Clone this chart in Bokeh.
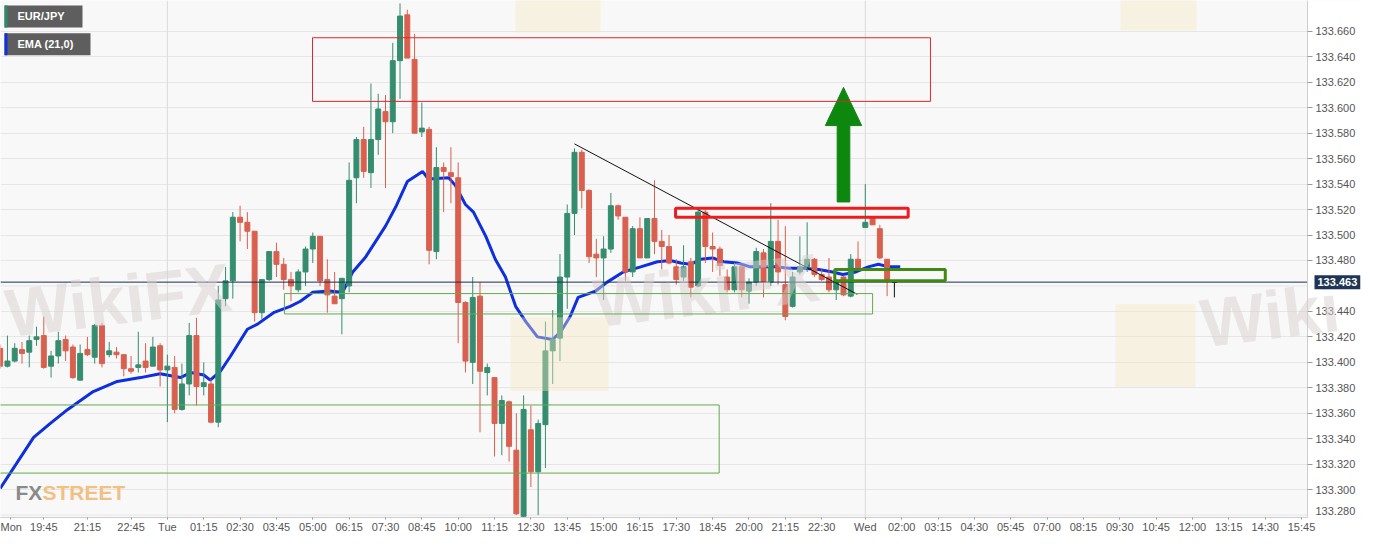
from bokeh.plotting import figure
from bokeh.models import FixedTicker, Range1d, BoxAnnotation, Label, Span, PrintfTickFormatter, ColumnDataSource
from bokeh.embed import file_html
from bokeh.resources import INLINE

# ---------------- data (15-minute candles, index 0 = Mon 19:45) ----------------
first_index = -6
opens = [133.411, 133.397, 133.401, 133.410, 133.408, 133.418, 133.421, 133.397, 133.405, 133.418,
         133.412, 133.386, 133.410, 133.404, 133.429, 133.406, 133.408, 133.406, 133.395, 133.396,
         133.401, 133.397, 133.413, 133.394, 133.396, 133.363, 133.383, 133.421, 133.381, 133.383,
         133.353, 133.450, 133.464, 133.514, 133.510, 133.503, 133.439, 133.465, 133.487, 133.477,
         133.465, 133.457, 133.471, 133.489, 133.499, 133.465, 133.452, 133.450, 133.460, 133.545,
         133.575, 133.549, 133.575, 133.597, 133.589, 133.637, 133.673, 133.638, 133.581, 133.583,
         133.487, 133.553, 133.549, 133.545, 133.447, 133.400, 133.452, 133.392, 133.388, 133.352,
         133.369, 133.331, 133.279, 133.347, 133.314, 133.351, 133.409, 133.419, 133.467, 133.517,
         133.565, 133.535, 133.485, 133.482, 133.489, 133.523, 133.514, 133.471, 133.505, 133.482,
         133.513, 133.495, 133.491, 133.475, 133.467, 133.479, 133.460, 133.518, 133.491, 133.489,
         133.467, 133.457, 133.475, 133.456, 133.463, 133.486, 133.463, 133.495, 133.461, 133.444,
         133.471, 133.475, 133.481, 133.469, 133.467, 133.457, 133.467, 133.452, 133.481, 133.506,
         133.514, 133.505, 133.481, 133.463]
highs = [133.414, 133.421, 133.415, 133.416, 133.421, 133.428, 133.436, 133.409, 133.424, 133.421,
         133.414, 133.414, 133.420, 133.430, 133.431, 133.416, 133.412, 133.406, 133.405, 133.424,
         133.415, 133.420, 133.415, 133.406, 133.405, 133.399, 133.431, 133.435, 133.400, 133.387,
         133.460, 133.475, 133.518, 133.523, 133.518, 133.503, 133.465, 133.487, 133.494, 133.482,
         133.471, 133.473, 133.491, 133.502, 133.499, 133.481, 133.471, 133.466, 133.557, 133.577,
         133.585, 133.619, 133.611, 133.610, 133.651, 133.682, 133.677, 133.658, 133.604, 133.585,
         133.569, 133.557, 133.569, 133.557, 133.448, 133.467, 133.463, 133.399, 133.388, 133.374,
         133.370, 133.360, 133.374, 133.366, 133.355, 133.432, 133.441, 133.485, 133.524, 133.568,
         133.567, 133.536, 133.497, 133.499, 133.533, 133.524, 133.514, 133.507, 133.514, 133.513,
         133.543, 133.504, 133.500, 133.481, 133.492, 133.482, 133.520, 133.520, 133.502, 133.491,
         133.473, 133.478, 133.475, 133.466, 133.490, 133.489, 133.525, 133.512, 133.507, 133.471,
         133.499, 133.510, 133.482, 133.473, 133.482, 133.465, 133.468, 133.485, 133.495, 133.540,
         133.514, 133.508, 133.481, 133.463]
lows = [133.395, 133.396, 133.400, 133.399, 133.396, 133.413, 133.395, 133.388, 133.399, 133.401,
        133.387, 133.386, 133.405, 133.399, 133.396, 133.404, 133.403, 133.389, 133.391, 133.392,
        133.392, 133.397, 133.381, 133.353, 133.360, 133.362, 133.374, 133.366, 133.374, 133.352,
        133.349, 133.444, 133.450, 133.495, 133.489, 133.432, 133.434, 133.464, 133.467, 133.457,
        133.448, 133.455, 133.460, 133.478, 133.460, 133.439, 133.446, 133.422, 133.455, 133.525,
        133.545, 133.537, 133.563, 133.537, 133.580, 133.607, 133.639, 133.580, 133.577, 133.477,
        133.481, 133.518, 133.525, 133.415, 133.392, 133.383, 133.345, 133.374, 133.326, 133.327,
        133.322, 133.280, 133.277, 133.302, 133.280, 133.317, 133.383, 133.401, 133.442, 133.500,
        133.521, 133.478, 133.467, 133.449, 133.486, 133.512, 133.464, 133.467, 133.482, 133.482,
        133.485, 133.473, 133.477, 133.461, 133.464, 133.451, 133.459, 133.478, 133.471, 133.468,
        133.455, 133.455, 133.451, 133.446, 133.460, 133.451, 133.460, 133.461, 133.433, 133.443,
        133.469, 133.471, 133.467, 133.464, 133.455, 133.449, 133.452, 133.451, 133.473, 133.506,
        133.508, 133.481, 133.452, 133.451]
closes = [133.397, 133.401, 133.411, 133.407, 133.417, 133.420, 133.396, 133.405, 133.417, 133.409,
          133.388, 133.407, 133.406, 133.429, 133.399, 133.409, 133.406, 133.395, 133.393, 133.398,
          133.396, 133.412, 133.394, 133.397, 133.363, 133.383, 133.421, 133.381, 133.384, 133.353,
          133.449, 133.464, 133.514, 133.510, 133.503, 133.439, 133.465, 133.487, 133.477, 133.465,
          133.460, 133.471, 133.489, 133.499, 133.464, 133.453, 133.446, 133.466, 133.543, 133.575,
          133.550, 133.575, 133.599, 133.589, 133.637, 133.672, 133.639, 133.580, 133.584, 133.488,
          133.553, 133.550, 133.546, 133.447, 133.401, 133.451, 133.393, 133.396, 133.352, 133.370,
          133.334, 133.281, 133.363, 133.314, 133.352, 133.409, 133.418, 133.467, 133.517, 133.565,
          133.535, 133.483, 133.482, 133.489, 133.523, 133.515, 133.471, 133.505, 133.482, 133.513,
          133.495, 133.491, 133.478, 133.465, 133.475, 133.459, 133.518, 133.491, 133.489, 133.476,
          133.457, 133.475, 133.457, 133.463, 133.487, 133.463, 133.495, 133.471, 133.436, 133.467,
          133.475, 133.481, 133.469, 133.465, 133.457, 133.464, 133.453, 133.481, 133.473, 133.510,
          133.508, 133.482, 133.465, 133.463]

tick_index = [-4.58, 0, 6, 12, 17, 22, 27, 32, 37, 42, 47, 52, 57, 62, 67, 72, 77, 82, 87, 92, 97,
              102, 107, 113, 118, 123, 128, 133, 138, 143, 148, 153, 158, 163, 168, 173]
tick_labels = ["Mon", "19:45", "21:15", "22:45", "Tue", "01:15", "02:30", "03:45", "05:00", "06:15", "07:30",
               "08:45", "10:00", "11:15", "12:30", "13:45", "15:00", "16:15", "17:30", "18:45", "20:00",
               "21:15", "22:30", "Wed", "02:00", "03:15", "04:30", "05:45", "07:00", "08:15", "09:30",
               "10:45", "12:00", "13:15", "14:30", "15:45"]
day_breaks = [17, 113]

price_ticks = [133.30, 133.32, 133.34, 133.36, 133.38, 133.40, 133.42, 133.44,
               133.48, 133.50, 133.52, 133.54, 133.56, 133.58, 133.60, 133.62, 133.64, 133.66]
edge_price_tick = 133.28      # drawn as a separate label so it is not cut at the frame edge
hidden_grid = [133.28, 133.46]

ema_index = [-6.0, -1.4, 0.9, 3.3, 6.8, 10.1, 13.3, 16.0, 18.8, 20.2, 22.0, 22.9, 24.3, 25.7, 28.0,
             29.4, 31.6, 33.9, 35.3, 37.0, 39.2, 41.1, 42.5, 44.3, 47.0, 48.4, 50.0, 52.1, 52.9, 55.7,
             56.6, 58.0, 59.1, 60.8, 62.1, 63.5, 64.9, 66.3, 67.9, 70.0, 71.1, 72.4, 73.5, 75.9, 77.5,
             79.7, 82.1, 84.4, 86.2, 87.6, 89.0, 90.3, 92.0, 93.5, 95.4, 97.2, 100.6, 102.4, 104.4,
             106.6, 108.5, 109.9, 111.7, 113.4, 114.8, 116.2, 117.8]
ema_values = [133.301, 133.341, 133.352, 133.363, 133.377, 133.385, 133.388, 133.391, 133.388, 133.392,
              133.390, 133.386, 133.393, 133.405, 133.426, 133.430, 133.439, 133.444, 133.448, 133.455,
              133.456, 133.455, 133.471, 133.483, 133.507, 133.522, 133.542, 133.550, 133.544, 133.545,
              133.539, 133.524, 133.518, 133.499, 133.481, 133.467, 133.444, 133.432, 133.420, 133.418,
              133.424, 133.436, 133.451, 133.456, 133.463, 133.471, 133.475, 133.479, 133.480, 133.478,
              133.477, 133.481, 133.482, 133.479, 133.478, 133.475, 133.475, 133.474, 133.474, 133.473,
              133.471, 133.469, 133.471, 133.475, 133.477, 133.475, 133.475]

last_price = 133.463

# drawn zones: [left index, right index, bottom price, top price]
supply_zone = [36.96, 121.96, 133.605, 133.655]
resistance_zone = [86.9, 118.9, 133.514, 133.521]
mid_support_zone = [33.1, 114.0, 133.438, 133.454]
low_support_zone = [-8.0, 92.9, 133.313, 133.3665]
retest_zone = [108.8, 124.0, 133.464, 133.473]
trend_index = [73.0, 111.9]
trend_price = [133.5716, 133.4534]
arrow_index = 110.0
arrow_price = [133.526, 133.586, 133.616]   # shaft bottom, head base, tip

# ---------------- layout helpers (reference pixel -> data) ----------------
X0, DX, Y0, PY = 43.3, 7.27, 261.0, 1277.8
def px2i(x):
    return (x - X0) / DX
def py2p(y):
    return 133.48 - (y - Y0) / PY

W, H = 1362, 535
AXIS_X, FRAME_B = 1307, 519
UP, DOWN = "#358d70", "#d9604f"
FONT = "Liberation Sans"

p = figure(width=W, height=H, x_range=Range1d(px2i(0), px2i(W)),
           y_range=Range1d(py2p(FRAME_B), py2p(0)), y_axis_location="right",
           output_backend="svg", toolbar_location=None,
           min_border_left=0, min_border_top=0, min_border_right=0, min_border_bottom=H - FRAME_B,
           background_fill_color="#f8f8f8", border_fill_color="white", outline_line_color=None)

p.xgrid.grid_line_color = None
p.ygrid.grid_line_color = "#e6e6e6"
for d in day_breaks:
    p.add_layout(Span(location=d, dimension="height", line_color="#dadada", line_width=1, level="underlay"))
for g in hidden_grid:
    p.add_layout(Span(location=g, dimension="width", line_color="#e6e6e6", line_width=1, level="underlay"))

# white price-scale area right of the chart
p.add_layout(BoxAnnotation(left=px2i(AXIS_X), right=px2i(W + 10), fill_color="white", fill_alpha=1,
                           line_alpha=0, level="glyph"))

# axes
p.xaxis.ticker = FixedTicker(ticks=tick_index)
p.xaxis.major_label_overrides = {t: l for t, l in zip(tick_index, tick_labels)}
p.xaxis.bounds = (px2i(0), px2i(AXIS_X))
p.yaxis.ticker = FixedTicker(ticks=price_ticks)
p.yaxis.formatter = PrintfTickFormatter(format="%.3f")
p.yaxis.fixed_location = px2i(AXIS_X)
for ax in (p.xaxis[0], p.yaxis[0]):
    ax.axis_line_color = "#cfcfcf"
    ax.major_tick_line_color = "#9a9a9a"
    ax.minor_tick_line_color = None
    ax.major_label_text_color = "#555555"
    ax.major_label_text_font = FONT
    ax.major_label_text_font_size = "11px"
p.xaxis.major_tick_in = 0
p.xaxis.major_tick_out = 2
p.xaxis.major_label_standoff = 1
p.yaxis.major_tick_in = 0
p.yaxis.major_tick_out = 5
p.yaxis.major_label_standoff = 3
p.add_layout(Label(x=px2i(1315), y=py2p(FRAME_B - 7), text=f"{edge_price_tick:.3f}", text_font=FONT,
                   text_font_size="11px", text_color="#555555", text_baseline="alphabetic"))

# faint WikiFX watermarks
for wx, wy, wt in [(10, 352, "WikiFX"), (598, 342, "WikiFX"), (1205, 362, "Wiki")]:
    p.add_layout(Label(x=px2i(wx), y=py2p(wy), text=wt, text_font=FONT, text_font_style="bold",
                       text_font_size="68px", text_color="#d8d0d0", text_alpha=0.5, angle=0.12))
for l, r, t, b in [(510, 608, 318, 392), (1115, 1195, 305, 388), (515, 600, -10, 32), (1120, 1196, -10, 30)]:
    p.add_layout(BoxAnnotation(left=px2i(l), right=px2i(r), top=py2p(t), bottom=py2p(b),
                               fill_color="#f4e6c0", fill_alpha=0.4, line_alpha=0))

# FXSTREET logo
p.add_layout(Label(x=px2i(15), y=py2p(505), text="FX", text_font=FONT,
                   text_font_style="bold", text_font_size="21px", text_color="#8a8a8a"))
p.add_layout(Label(x=px2i(42), y=py2p(505), text="STREET", text_font=FONT,
                   text_font_style="bold", text_font_size="21px", text_color="#f2c083"))

# zones
def zone(z, color, width):
    p.add_layout(BoxAnnotation(left=z[0], right=z[1], bottom=z[2], top=z[3], fill_alpha=0,
                               line_color=color, line_width=width, line_alpha=1))
zone(low_support_zone, "#66aa4c", 1)
zone(mid_support_zone, "#66aa4c", 1)
zone(supply_zone, "#e0262a", 1)

# EMA
p.line(ema_index, ema_values, line_color="#0d2fe0", line_width=3)

# candles
n = len(opens)
idx = [first_index + k for k in range(n)]
cols = []
for o, c in zip(opens, closes):
    cols.append(UP if c > o else (DOWN if c < o else "#111111"))
src = ColumnDataSource(dict(x=idx, o=opens, h=highs, l=lows, c=closes,
                            top=[max(o, c) for o, c in zip(opens, closes)],
                            bot=[min(o, c) for o, c in zip(opens, closes)], col=cols))
p.segment(x0="x", x1="x", y0="l", y1="h", line_color="col", line_width=1, source=src)
p.vbar(x="x", width=0.68, top="top", bottom="bot", fill_color="col", line_color="col", line_width=1, source=src)

zone(resistance_zone, "#ee1c1c", 3)
zone(retest_zone, "#3f8a12", 3)

# trend line
p.line(trend_index, trend_price, line_color="#111111", line_width=1)

# arrow
hw_head, hw_shaft = 2.5, 0.87
p.patch([arrow_index - hw_shaft, arrow_index + hw_shaft, arrow_index + hw_shaft, arrow_index + hw_head,
         arrow_index, arrow_index - hw_head, arrow_index - hw_shaft],
        [arrow_price[0], arrow_price[0], arrow_price[1], arrow_price[1], arrow_price[2], arrow_price[1], arrow_price[1]],
        fill_color="#0e870f", line_color="#0e870f")

# last price line (up to the price scale) and tag on the scale
p.segment(x0=[px2i(0)], x1=[px2i(AXIS_X)], y0=[last_price], y1=[last_price], line_color="#1d2c4c", line_width=1)
p.add_layout(Label(x=px2i(1314), y=last_price, text=f"{last_price:.3f}", text_font=FONT,
                   text_font_style="bold", text_font_size="11px", text_color="white",
                   text_baseline="middle", background_fill_color="#1f3556", padding=3))

# legend boxes
def tag(text, color, right_px, top_px, bottom_px):
    p.add_layout(BoxAnnotation(left=px2i(4), right=px2i(right_px), top=py2p(top_px), bottom=py2p(bottom_px),
                               fill_color="#5e5e5e", fill_alpha=1, line_alpha=0))
    p.add_layout(BoxAnnotation(left=px2i(4), right=px2i(7), top=py2p(top_px), bottom=py2p(bottom_px),
                               fill_color=color, fill_alpha=1, line_alpha=0))
    p.add_layout(Label(x=px2i(17), y=py2p((top_px + bottom_px) / 2), text=text, text_font=FONT,
                       text_font_style="bold", text_font_size="11px", text_color="white",
                       text_baseline="middle"))
tag("EUR/JPY", "#2f8a6a", 82, 5, 27)
tag("EMA (21,0)", "#1030e0", 90, 33, 55)

open("out.html", "w").write(file_html(p, INLINE))
